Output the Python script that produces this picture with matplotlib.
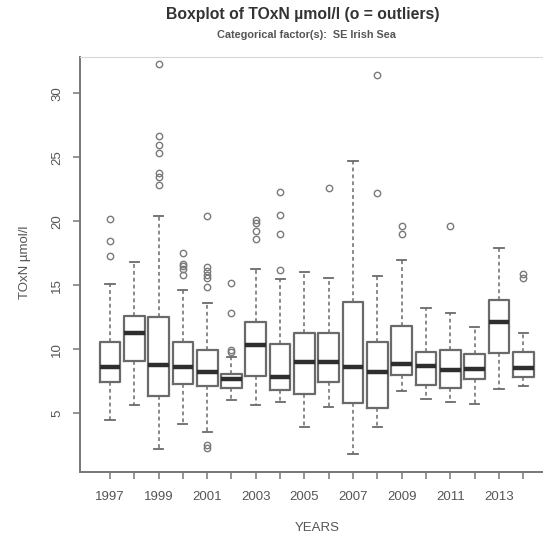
import matplotlib
matplotlib.use("Agg")
import matplotlib.pyplot as plt

# TOxN summary statistics per year (umol/l)
years = [1997, 1998, 1999, 2000, 2001, 2002, 2003, 2004, 2005,
         2006, 2007, 2008, 2009, 2010, 2011, 2012, 2013, 2014]
whis_lo = [4.5, 5.65, 2.2, 4.15, 3.55, 6.0, 5.65, 5.85, 3.9,
           5.5, 1.8, 3.9, 6.75, 6.1, 5.9, 5.7, 6.9, 7.15]
q1 = [7.45, 9.05, 6.35, 7.3, 7.1, 6.95, 7.9, 6.8, 6.5,
      7.45, 5.8, 5.45, 8.0, 7.2, 7.0, 7.65, 9.7, 7.8]
medians = [8.6, 11.25, 8.8, 8.6, 8.2, 7.65, 10.3, 7.8, 9.0,
           9.0, 8.6, 8.2, 8.85, 8.7, 8.4, 8.45, 12.15, 8.5]
q3 = [10.6, 12.6, 12.5, 10.6, 9.95, 8.05, 12.1, 10.45, 11.25,
      11.3, 13.7, 10.6, 11.85, 9.8, 9.95, 9.65, 13.85, 9.8]
whis_hi = [15.1, 16.8, 20.4, 14.6, 13.6, 9.4, 16.25, 15.5, 16.0,
           15.6, 24.7, 15.7, 17.0, 13.25, 12.8, 11.75, 17.95, 11.25]
outliers = [
    [20.2, 18.5, 17.3],
    [],
    [32.3, 26.7, 26.0, 25.3, 23.75, 23.5, 22.8],
    [17.55, 16.7, 16.5, 16.25, 15.8],
    [20.4, 16.4, 16.15, 15.8, 15.55, 14.9, 2.5, 2.3],
    [15.15, 12.8, 9.95, 9.8],
    [20.1, 19.85, 19.25, 18.6],
    [22.3, 20.5, 19.0, 16.2],
    [],
    [22.6],
    [],
    [31.4, 22.2],
    [19.6, 19.0],
    [],
    [19.6],
    [],
    [],
    [15.9, 15.55],
]
year_labels = [str(y) if y % 2 == 1 else "" for y in years]
y_ticks = [5, 10, 15, 20, 25, 30]

stats = []
for i, yr in enumerate(years):
    stats.append({
        "label": str(yr),
        "whislo": whis_lo[i], "q1": q1[i], "med": medians[i],
        "q3": q3[i], "whishi": whis_hi[i], "fliers": outliers[i],
    })

plt.rcParams["font.family"] = ["Liberation Sans", "DejaVu Sans"]

fig = plt.figure(figsize=(5.43, 5.41), dpi=100)
W, H = 543, 541
ax = fig.add_axes([80 / W, (H - 472) / H, (W - 80) / W, (472 - 57) / H])

box_col = "#6a6a6a"
ax.bxp(
    stats, positions=years, widths=0.85, capwidths=0.38, manage_ticks=False,
    boxprops=dict(color=box_col, linewidth=1.6),
    medianprops=dict(color="#2e2e2e", linewidth=3.2),
    whiskerprops=dict(color=box_col, linewidth=1.1, linestyle=(0, (2.5, 2))),
    capprops=dict(color=box_col, linewidth=1.3),
    flierprops=dict(marker="o", markersize=4.6, markerfacecolor="none",
                    markeredgecolor="#7a7a7a", markeredgewidth=1.0),
)

ax.set_xlim(1995.77, 2014.81)
ax.set_ylim(0.41, 32.84)
ax.set_xticks(years)
ax.set_xticklabels(year_labels)
ax.set_yticks(y_ticks)
ax.set_yticklabels([str(v) for v in y_ticks], rotation=90, va="center")

ax.spines["right"].set_visible(False)
ax.spines["top"].set_color("#d8d8d8")
for side in ("left", "bottom"):
    ax.spines[side].set_color("#777777")
    ax.spines[side].set_linewidth(1.4)

ax.tick_params(axis="both", direction="out", length=5, width=1.1,
               color="#777777", labelcolor="#555555", labelsize=9.5)
ax.tick_params(axis="x", pad=9)
ax.tick_params(axis="y", pad=7)

fig.text(25 / W, 1 - 262 / H, "TOxN µmol/l", rotation=90, ha="center",
         va="center", fontsize=9.5, color="#555555")
fig.text(317 / W, 1 - 528 / H, "YEARS", ha="center", va="center",
         fontsize=9.5, color="#555555")
fig.text(303 / W, 1 - 15 / H, "Boxplot of TOxN µmol/l (o = outliers)",
         ha="center", va="center", fontsize=11.3, fontweight="bold",
         color="#333333")
fig.text(306 / W, 1 - 35 / H, "Categorical factor(s):  SE Irish Sea",
         ha="center", va="center", fontsize=7.8, fontweight="bold",
         color="#555555")

fig.savefig("out.png", dpi=100)
